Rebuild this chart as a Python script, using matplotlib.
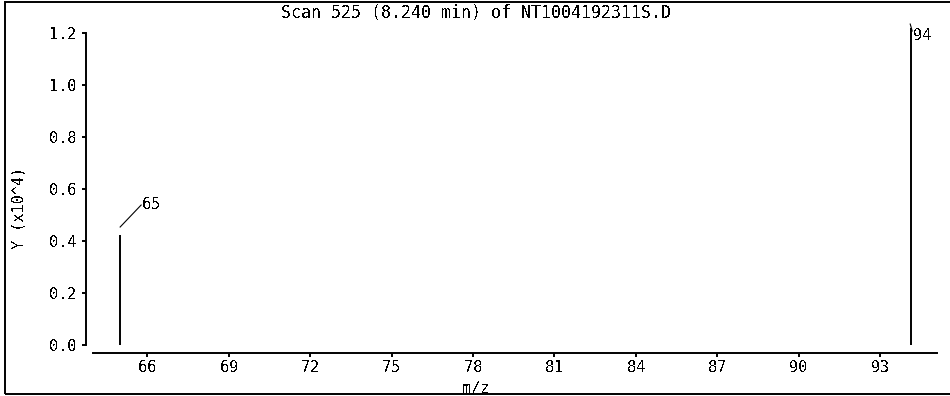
'''
Mass spectrum of one scan, drawn as stick plot
'''
import matplotlib
matplotlib.use('Agg')
import matplotlib.pyplot as plt
from matplotlib.patches import Rectangle
from matplotlib.lines import Line2D
from matplotlib.transforms import IdentityTransform

# scan data (intensity in units of 10^4)
mz = [65.0, 94.15]
intensity = [0.423, 1.219]
peak_labels = ['65', '94']
xticks = [66, 69, 72, 75, 78, 81, 84, 87, 90, 93]
yticks = [0.0, 0.2, 0.4, 0.6, 0.8, 1.0, 1.2]
title = 'Scan 525 (8.240 min) of NT1004192311S.D'

plt.rcParams['font.family'] = 'DejaVu Sans Mono'
plt.rcParams['font.size'] = 12
plt.rcParams['text.antialiased'] = False

W, H = 950, 396
fig = plt.figure(figsize=[W/100, H/100], dpi=100)
ax = fig.add_axes([93/W, 1-345/H, (937-93)/W, (345-20)/H])

ax.vlines(mz, 0, intensity, color='black', lw=1.4)

ax.set_xlim(64, 95.1)
ax.set_ylim(0, 1.25)
ax.set_xticks(xticks)
ax.set_yticks(yticks)
ax.set_yticklabels(['%.1f' % v for v in yticks])

# leader lines: start/end as pixel offsets from the peak top
line_from = [(0, 8), (-1, 4)]
line_to = [(21, 30), (1, -3)]
text_off = [(22, 31), (2, -7)]
for x, y, lab, a, b, to in zip(mz, intensity, peak_labels, line_from, line_to, text_off):
    px, py = ax.transData.transform((x, y))
    fig.add_artist(Line2D([px + a[0], px + b[0]], [py + a[1], py + b[1]],
                          transform=IdentityTransform(), lw=0.8, color='black'))
    ax.annotate(lab, xy=(x, y), xytext=to, textcoords='offset pixels',
                ha='left', va='center', fontsize=11)

for s in ['top', 'right']:
    ax.spines[s].set_visible(False)
ax.spines['left'].set_position(('outward', 5))
ax.spines['left'].set_bounds(0, 1.2)
ax.spines['bottom'].set_position(('outward', 6))
for s in ['left', 'bottom']:
    ax.spines[s].set_linewidth(1.4)
ax.tick_params(direction='out', length=3, width=1.4, labelsize=11)
ax.tick_params(axis='x', pad=2)
ax.tick_params(axis='y', pad=4)

fig.text(476/W, 1-13/H, title, ha='center', va='center')
fig.text(476/W, 1-388/H, 'm/z', ha='center', va='center', fontsize=11)
fig.text(19/W, 1-208/H, 'Y (x10^4)', rotation=90, ha='center', va='center', fontsize=11)

# outer frame (right side runs off the image)
fig.patches.append(Rectangle((5/W, 2/H), 1.05, (H-4)/H, transform=fig.transFigure,
                             fill=False, lw=1.4, ec='black', clip_on=False))

fig.savefig('out.png', dpi=100)
